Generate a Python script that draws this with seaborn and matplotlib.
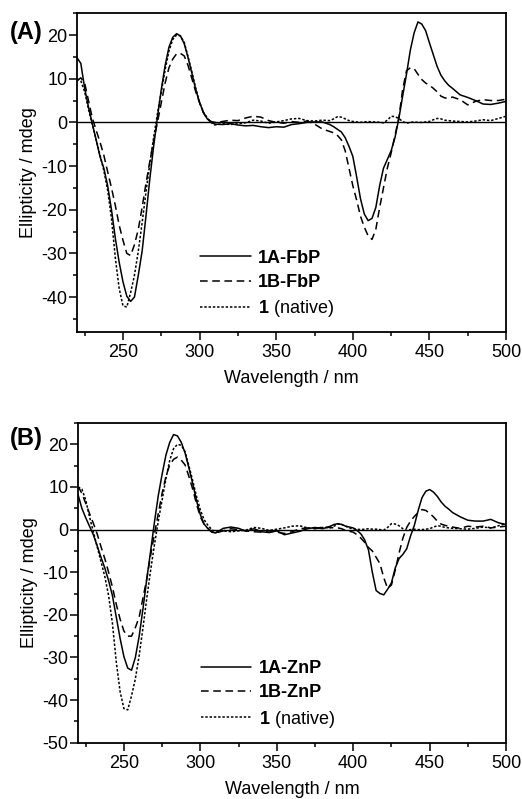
import numpy as np
import pandas as pd
import matplotlib
matplotlib.use("Agg")
import matplotlib.pyplot as plt
from matplotlib.ticker import MultipleLocator
import seaborn as sns

# wavelength grid (nm): finer steps where the bands are
wavelength = np.concatenate([
    np.arange(220, 310.1, 2.5),   # 37 points
    np.arange(315, 385.1, 5),     # 15 points
    np.arange(387.5, 462.6, 2.5), # 31 points
    np.arange(465, 500.1, 5),     # 8 points
])

# panel A: free-base porphyrin conjugates
cd_1a_fbp = [14.8, 13.5, 7.8, 3.5, -0.3, -4.0, -7.8, -10.5, -14.5, -20.0,
             -26.5, -32.0, -36.5, -39.8, -41.0, -40.0, -35.0, -29.5, -21.5, -13.0,
             -5.5, 1.2, 7.5, 13.0, 17.2, 19.5, 20.3, 19.8, 18.0, 14.8,
             11.2, 7.5, 4.5, 2.3, 0.8, 0.0, -0.4,
             -0.5, -0.3, -0.6, -0.8, -0.7, -1.0, -1.2, -1.0, -1.1, -0.5,
             -0.3, 0.0, 0.1, 0.1, -0.5,
             -1.0, -1.6, -2.2, -3.5, -5.5, -7.8, -12.5, -17.5, -21.0, -22.5,
             -22.0, -19.5, -14.5, -10.5, -8.5, -6.5, -3.5, 0.8, 6.0, 11.0,
             16.5, 20.5, 23.0, 22.5, 21.0, 18.2, 15.5, 12.8, 10.8, 9.5,
             8.5,
             7.8, 6.3, 5.7, 5.0, 4.2, 4.1, 4.4, 4.8]
cd_1b_fbp = [9.5, 10.2, 9.0, 5.0, 1.0, -1.8, -4.5, -7.5, -11.3, -15.0,
             -19.0, -23.5, -27.0, -30.0, -30.5, -28.0, -24.5, -19.5, -14.0, -9.0,
             -4.3, 0.0, 4.5, 9.0, 12.5, 14.5, 15.7, 15.8, 15.2, 13.0,
             10.0, 7.0, 4.5, 2.2, 0.8, 0.2, 0.0,
             0.2, 0.5, 0.4, 1.0, 1.4, 1.2, 0.4, 0.0, -0.2, 0.2,
             0.0, 0.3, -0.4, -1.5, -2.1,
             -2.4, -3.0, -4.0, -6.5, -10.5, -14.5, -17.8, -21.5, -24.0, -26.0,
             -26.8, -24.5, -19.5, -15.0, -10.5, -7.0, -3.0, 1.0, 7.5, 11.8,
             12.5, 12.3, 11.0, 9.8, 9.0, 8.5, 7.8, 7.0, 6.0, 5.6,
             5.5,
             5.8, 5.2, 4.0, 4.8, 5.2, 5.0, 5.0, 5.3]

# panel B: zinc porphyrin conjugates
cd_1a_znp = [8.2, 5.0, 2.8, 0.8, -1.2, -3.8, -6.5, -9.0, -12.0, -15.5,
             -20.5, -25.5, -29.8, -32.5, -33.0, -30.0, -25.0, -18.5, -11.5, -5.0,
             1.8, 8.0, 13.0, 17.5, 20.5, 22.3, 22.0, 20.5, 18.0, 14.5,
             10.8, 6.8, 3.5, 1.3, 0.2, -0.6, -0.8,
             0.3, 0.6, 0.3, -0.4, 0.2, -0.5, -0.7, -0.3, -1.2, -0.8,
             -0.4, 0.2, 0.5, 0.2, 0.8,
             1.2, 1.4, 1.2, 0.8, 0.6, 0.4, -0.2, -1.0, -2.4, -4.8,
             -10.0, -14.3, -15.0, -15.3, -14.0, -12.5, -9.0, -6.8, -5.8, -4.5,
             -1.5, 1.0, 4.5, 7.5, 9.0, 9.4, 8.8, 7.8, 6.5, 5.5,
             4.8,
             4.0, 3.0, 2.2, 2.0, 2.0, 2.4, 1.6, 1.2]
cd_1b_znp = [10.2, 8.5, 6.2, 3.8, 1.5, -1.0, -4.0, -6.8, -10.0, -13.5,
             -17.5, -21.0, -23.8, -25.0, -25.0, -23.0, -20.5, -16.0, -11.5, -6.0,
             -1.0, 3.8, 8.5, 12.5, 15.2, 16.5, 17.0, 16.3, 15.2, 12.5,
             9.5, 6.0, 3.0, 1.2, 0.3, -0.5, -0.8,
             -0.3, 0.2, 0.0, -0.3, -0.5, -0.6, -0.3, -0.6, -0.9, -0.5,
             0.2, 0.4, 0.2, 0.6, 0.5,
             0.4, 0.4, 0.2, -0.2, -0.4, -0.6, -1.2, -2.0, -3.0, -4.2,
             -5.0, -6.5, -8.0, -11.3, -13.8, -13.0, -9.5, -5.5, -2.0, 0.5,
             2.0, 3.1, 4.0, 4.7, 4.5, 3.8, 3.0, 2.0, 1.3, 1.0,
             0.8,
             0.6, 0.3, 0.8, 0.6, 0.8, 0.4, 0.6, 0.8]

# native duplex (same trace in both panels)
cd_native = [10.0, 9.5, 7.0, 3.0, -0.5, -4.0, -7.5, -11.0, -15.5, -22.0,
             -31.0, -38.0, -42.0, -42.3, -39.0, -35.0, -29.5, -23.0, -16.0, -9.5,
             -3.5, 2.0, 7.0, 12.0, 16.3, 19.0, 20.0, 19.8, 18.3, 15.0,
             11.5, 7.8, 4.6, 2.3, 1.0, 0.0, -0.6,
             -0.3, -0.5, -0.3, -0.1, 0.5, 0.3, -0.2, 0.1, 0.4, 0.8,
             0.9, 0.4, 0.3, 0.5, 0.4,
             0.8, 1.3, 1.2, 0.8, 0.4, 0.2, 0.1, 0.0, 0.1, 0.2,
             0.1, 0.1, 0.0, -0.1, 0.5, 1.4, 1.3, 0.9, 0.2, -0.2,
             0.0, 0.1, 0.0, 0.0, 0.1, 0.2, 0.6, 0.9, 0.8, 0.5,
             0.4,
             0.3, 0.2, 0.1, 0.3, 0.6, 0.4, 0.9, 1.4]

sns.set_style("ticks")
plt.rcParams['font.family'] = ['Liberation Sans', 'DejaVu Sans']
plt.rcParams['mathtext.fontset'] = 'custom'
plt.rcParams['mathtext.rm'] = 'Liberation Sans'
plt.rcParams['mathtext.bf'] = 'Liberation Sans:bold'
plt.rcParams['axes.unicode_minus'] = False
for key in ['text.color', 'axes.labelcolor', 'xtick.color', 'ytick.color', 'axes.edgecolor']:
    plt.rcParams[key] = 'black'

fig = plt.figure(figsize=(5.22, 7.99), dpi=100)
ax_a = fig.add_axes([0.1475, 0.5845, 0.822, 0.399])
ax_b = fig.add_axes([0.1495, 0.0705, 0.820, 0.400])

panels = [
    (ax_a, cd_1a_fbp, cd_1b_fbp, '1A-FbP', '1B-FbP', (-48, 25), '(A)', 1 - 33 / 799),
    (ax_b, cd_1a_znp, cd_1b_znp, '1A-ZnP', '1B-ZnP', (-50, 25), '(B)', 1 - 439 / 799),
]

for ax, cd_a, cd_b, lab_a, lab_b, ylim, tag, tag_y in panels:
    ax.axhline(0, color='black', lw=1.0, zorder=1)
    sns.lineplot(x=wavelength, y=cd_a, ax=ax, color='black', lw=1.1,
                 linestyle='-', label=lab_a)
    sns.lineplot(x=wavelength, y=cd_b, ax=ax, color='black', lw=1.1,
                 linestyle=(0, (5, 3)), label=lab_b)
    sns.lineplot(x=wavelength, y=cd_native, ax=ax, color='black', lw=1.1,
                 linestyle=(0, (1.6, 1.2)), label=r'$\mathbf{1}$ (native)')

    ax.set_xlim(220, 500)
    ax.set_ylim(*ylim)
    ax.xaxis.set_major_locator(MultipleLocator(50))
    ax.xaxis.set_minor_locator(MultipleLocator(25))
    ax.yaxis.set_major_locator(MultipleLocator(10))
    ax.yaxis.set_minor_locator(MultipleLocator(5))
    ax.tick_params(which='major', length=5.5, width=1.1, labelsize=13, pad=1.5)
    ax.tick_params(which='minor', length=3, width=1.1)
    ax.tick_params(axis='x', which='major', pad=3.5)
    for sp in ax.spines.values():
        sp.set_visible(True)
        sp.set_linewidth(1.3)
    ax.set_xlabel('Wavelength / nm', fontsize=13, labelpad=6)
    ax.set_ylabel('Ellipticity / mdeg', fontsize=13, labelpad=3)

    leg = ax.legend(loc='upper left', bbox_to_anchor=(0.287, 0.258), frameon=False,
                    fontsize=13, handlelength=2.8, handletextpad=0.4,
                    labelspacing=0.4, borderpad=0, borderaxespad=0)
    for t in leg.get_texts()[:2]:
        t.set_fontweight('bold')

    fig.text(0.018, tag_y, tag, fontsize=17, fontweight='bold', va='center', ha='left')

fig.savefig('out.png', dpi=100)
